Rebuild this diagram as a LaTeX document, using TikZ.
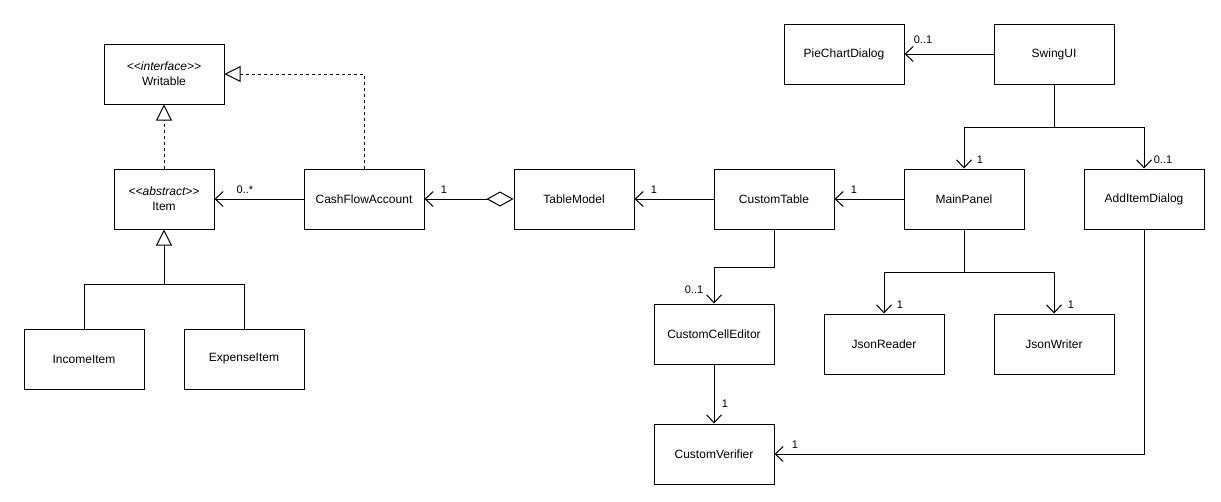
\documentclass[tikz,border=0pt]{standalone}
\usepackage{fontspec}
\setmainfont{Liberation Sans}
\usetikzlibrary{arrows.meta}
\begin{document}
\begin{tikzpicture}[x=1pt,y=-1pt,
  line width=1pt,
  cls/.style={draw, rectangle, minimum width=120pt, minimum height=60pt,
    inner sep=0pt, align=center, font=\fontsize{12}{15}\selectfont},
  mult/.style={font=\fontsize{11}{13}\selectfont, inner sep=0pt},
  assoc/.style={-{Straight Barb[length=8pt,width=15pt,line width=1pt]}},
  realize/.style={dash pattern=on 3pt off 3pt,
    -{Triangle[open,length=16pt,width=16pt,line width=1pt]}},
  inherit/.style={-{Triangle[open,length=16pt,width=16pt,line width=1pt]}},
  aggr/.style={{Diamond[open,length=27pt,width=15pt,line width=1pt]}-{Straight Barb[length=8pt,width=15pt,line width=1pt]}}
]
\useasboundingbox (0,0) rectangle (1221,501);

% classes
\node[cls] (writable) at (164,74) {{\itshape <{}<interface>{}>}\\Writable};
\node[cls, minimum width=100pt] (item) at (164,199) {{\itshape <{}<abstract>{}>}\\Item};
\node[cls] (income) at (84,359) {IncomeItem};
\node[cls] (expense) at (244,359) {ExpenseItem};
\node[cls] (cfa) at (364,199) {CashFlowAccount};
\node[cls] (tm) at (574,199) {TableModel};
\node[cls] (ct) at (774,199) {CustomTable};
\node[cls] (mp) at (964,199) {MainPanel};
\node[cls] (aid) at (1144,199) {AddItemDialog};
\node[cls] (swing) at (1054,54) {SwingUI};
\node[cls] (pie) at (844,54) {PieChartDialog};
\node[cls] (cce) at (714,334) {CustomCellEditor};
\node[cls] (cv) at (714,454) {CustomVerifier};
\node[cls] (jr) at (884,344) {JsonReader};
\node[cls] (jw) at (1054,344) {JsonWriter};

% bend points
\coordinate (gen) at (164,284);
\coordinate (swsplit) at (1054,127);
\coordinate (ctbend) at (774,267);
\coordinate (mpsplit) at (964,272);

% realization and generalization
\draw[realize] (item.north) -- (writable.south);
\draw[realize] (cfa.north) |- (writable.east);
\draw (expense.north) |- (gen);
\draw[inherit] (income.north) |- (gen) -- (item.south);

% associations
\draw[assoc] (cfa.west) -- (item.east);
\draw[aggr] (tm.west) -- (cfa.east);
\draw[assoc] (ct.west) -- (tm.east);
\draw[assoc] (mp.west) -- (ct.east);
\draw[assoc] (swing.west) -- (pie.east);
\draw (swing.south) -- (swsplit);
\draw[assoc] (swsplit) -| (mp.north);
\draw[assoc] (swsplit) -| (aid.north);
\draw[assoc] (ct.south) -- (ctbend) -| (cce.north);
\draw (mp.south) -- (mpsplit);
\draw[assoc] (mpsplit) -| (jr.north);
\draw[assoc] (mpsplit) -| (jw.north);
\draw[assoc] (cce.south) -- (cv.north);
\draw[assoc] (aid.south) |- (cv.east);

% multiplicities
\node[mult] (m1) at (245,190) {0..*};
\node[mult] (m2) at (444,190) {1};
\node[mult] (m3) at (654,190) {1};
\node[mult] (m4) at (854,190) {1};
\node[mult] (m5) at (923,40) {0..1};
\node[mult] (m6) at (980,160) {1};
\node[mult] (m7) at (1163,160) {0..1};
\node[mult] (m8) at (694,290) {0..1};
\node[mult] (m9) at (900,305) {1};
\node[mult] (m10) at (1071,305) {1};
\node[mult] (m11) at (725,404) {1};
\node[mult] (m12) at (795,445) {1};
\end{tikzpicture}
\end{document}
